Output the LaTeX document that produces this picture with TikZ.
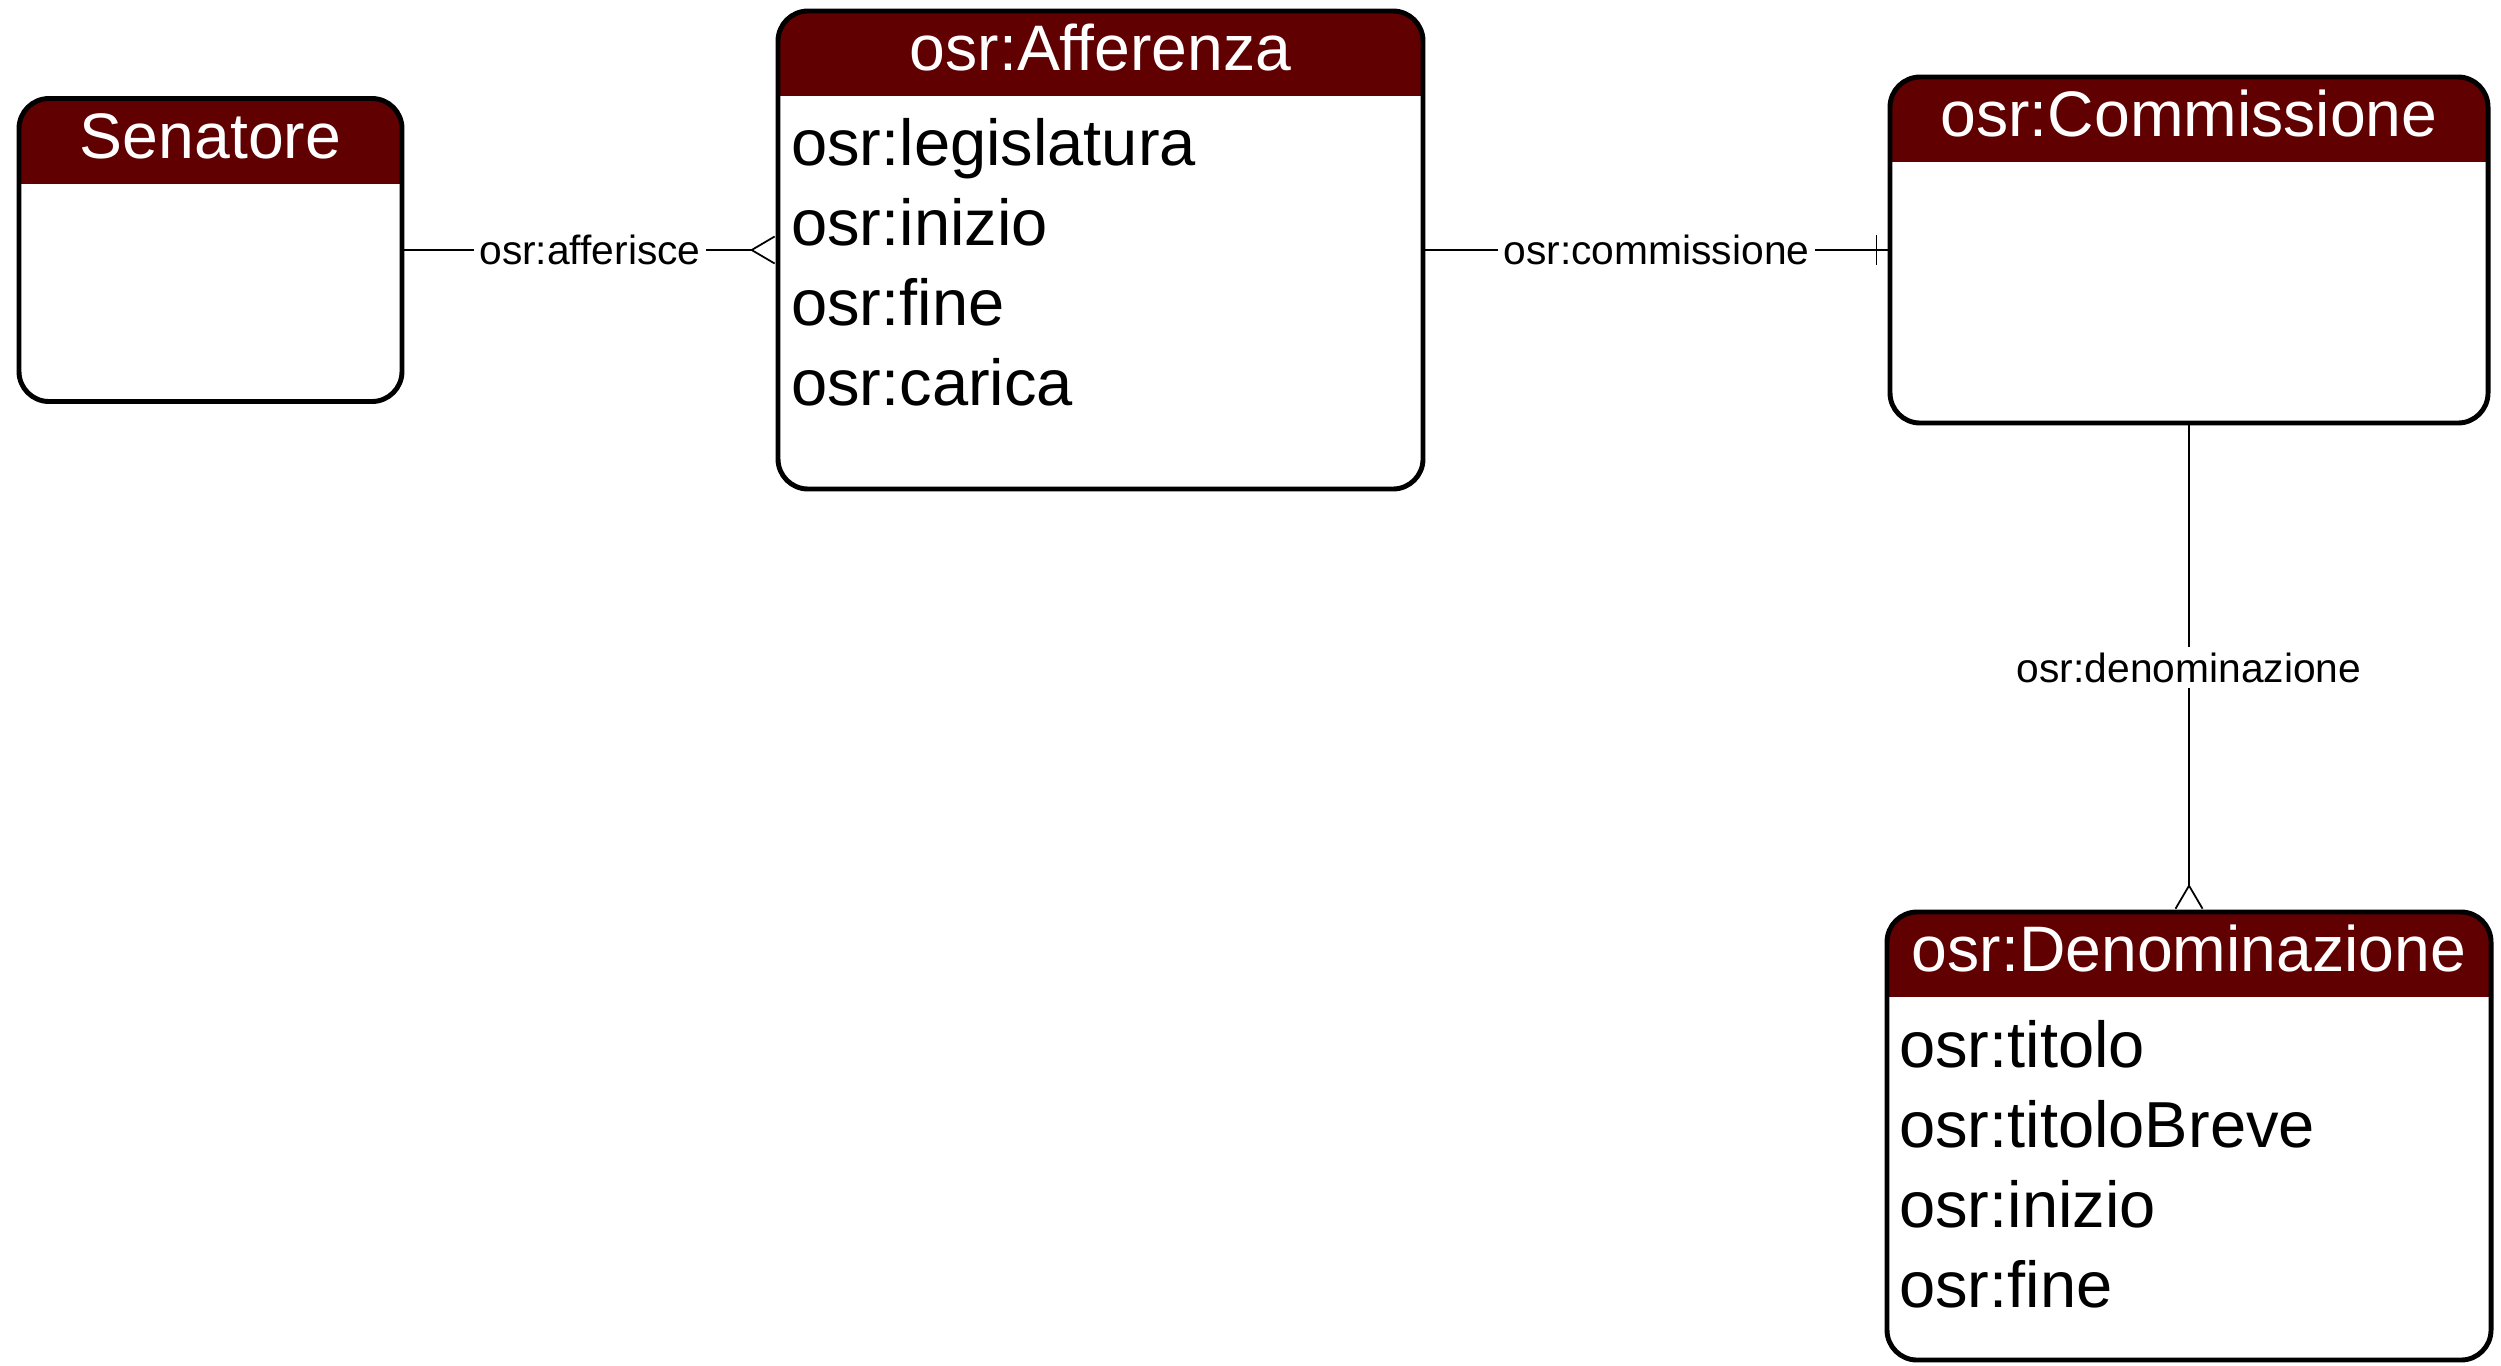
\documentclass[tikz,border=0pt]{standalone}
\usepackage{fontspec}
\setmainfont{Liberation Sans}
\usetikzlibrary{positioning, arrows.meta, decorations.markings}
\definecolor{headred}{RGB}{96,0,0}

\tikzset{
  entity/.style={draw, line width=1.4pt, rounded corners=0.3cm, fill=white, inner sep=0pt,
    path picture={\fill[headred, sharp corners] (path picture bounding box.north west) rectangle ([yshift=-0.85cm]path picture bounding box.north east);}},
  title/.style={anchor=base, text=white, font=\fontsize{18.3}{22}\selectfont, inner sep=0pt},
  attr/.style={anchor=base west, font=\fontsize{18.5}{22}\selectfont, inner sep=0pt},
  rel/.style={line width=0.5pt},
  rlabel/.style={fill=white, font=\fontsize{11.6}{14}\selectfont, inner sep=1.5pt},
  many/.style={-{Straight Barb[reversed, length=2.3mm, width=2.7mm]}},
  one/.style={postaction={decorate, decoration={markings,
    mark=at position -1.1mm with {\draw (0,-1.5mm) -- (0,1.5mm);}}}}
}

\begin{document}
\begin{tikzpicture}
	\useasboundingbox (0,0) rectangle (25.01,-13.65);
	% entities
	\node[entity, minimum width=3.83cm, minimum height=3.03cm] (sen) at (2.105,-2.5) {};
	\node[entity, minimum width=6.45cm, minimum height=4.78cm] (aff) at (11.005,-2.5) {};
	\node[entity, minimum width=5.98cm, minimum height=3.46cm] (com) at (21.89,-2.5) {};
	\node[entity, minimum width=6.04cm, minimum height=4.48cm] (den) at (21.89,-11.36) {};
	% titles
	\node[title] (sen-t) at ([yshift=-0.62cm]sen.north) {Senatore};
	\node[title] (aff-t) at ([yshift=-0.62cm]aff.north) {osr:Afferenza};
	\node[title] (com-t) at ([yshift=-0.62cm]com.north) {osr:Commissione};
	\node[title] (den-t) at ([yshift=-0.62cm]den.north) {osr:Denominazione};
	% attributes
	\node[attr] (aff-a) at ([xshift=0.15cm, yshift=-1.57cm]aff.north west) {osr:legislatura};
	\node[attr] (aff-b) at ([yshift=-0.8cm]aff-a.base west) {osr:inizio};
	\node[attr] (aff-c) at ([yshift=-0.8cm]aff-b.base west) {osr:fine};
	\node[attr] (aff-d) at ([yshift=-0.8cm]aff-c.base west) {osr:carica};
	\node[attr] (den-a) at ([xshift=0.14cm, yshift=-1.58cm]den.north west) {osr:titolo};
	\node[attr] (den-b) at ([yshift=-0.8cm]den-a.base west) {osr:titoloBreve};
	\node[attr] (den-c) at ([yshift=-0.8cm]den-b.base west) {osr:inizio};
	\node[attr] (den-d) at ([yshift=-0.8cm]den-c.base west) {osr:fine};
	% relations
	\draw[rel, many] (sen.east) -- node[rlabel] {osr:afferisce} (aff.west);
	\draw[rel, one] (aff.east) -- node[rlabel] {osr:commissione} (com.west);
	\draw[rel, many] (com.south) -- node[rlabel] {osr:denominazione} (den.north);
\end{tikzpicture}
\end{document}
